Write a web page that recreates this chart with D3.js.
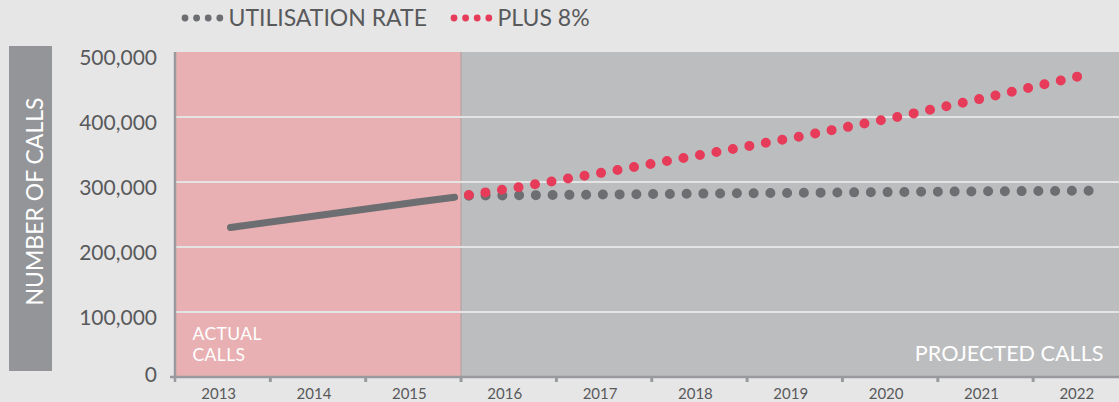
<!DOCTYPE html>
<html>
<head>
<meta charset="utf-8">
<script src="https://cdn.jsdelivr.net/npm/d3@7"></script>
<style>
  body { margin: 0; background: #e6e6e6; }
  svg { display: block; font-family: Lato, "Open Sans", sans-serif; }
</style>
</head>
<body>
<div id="chart"></div>
<script>
// chart values
const years = ["2013", "2014", "2015", "2016", "2017", "2018", "2019", "2020", "2021", "2022"];
const yTicks = [0, 100000, 200000, 300000, 400000, 500000];

const actualYears = [2013, 2014, 2015, 2015.35];
const actualCalls = [230000, 250000, 270000, 276500];

const projYears = [2015.5, 2016, 2017, 2018, 2019, 2020, 2021, 2022];
const utilisation = [279000, 279500, 280800, 282200, 283400, 284600, 285700, 286600];
const plus8 = [280000, 291500, 317000, 343500, 370800, 400300, 432300, 466200];

const W = 1119, H = 402;
const plotLeft = 175, plotTop = 52, plotBottom = 377;

const svg = d3.select("#chart").append("svg")
  .attr("width", W).attr("height", H);

const xBand = d3.scaleBand().domain(years).range([plotLeft, plotLeft + 10 * 95.35]);
const step = xBand.step();
// data points sit a bit right of the band centre
const xLin = d3.scaleLinear()
  .domain([2013, 2023])
  .range([plotLeft + 55.5, plotLeft + 55.5 + 10 * step]);
const y = d3.scaleLinear().domain([0, 500000]).range([plotBottom, plotTop]);

// backgrounds
svg.append("rect")
  .attr("x", xBand("2016")).attr("y", y(500000))
  .attr("width", W - xBand("2016")).attr("height", y(0) - y(500000))
  .attr("fill", "#bcbdbf");
svg.append("rect")
  .attr("x", xBand("2013")).attr("y", y(500000))
  .attr("width", xBand("2016") - xBand("2013")).attr("height", y(0) - y(500000))
  .attr("fill", "#e8b0b3");
svg.append("line")
  .attr("x1", xBand("2016")).attr("x2", xBand("2016"))
  .attr("y1", y(500000)).attr("y2", y(0))
  .attr("stroke", "#ab9fa1").attr("stroke-width", 1);

// grid
svg.append("g").selectAll("line")
  .data(yTicks.filter(d => d > 0 && d < 500000))
  .join("line")
  .attr("x1", plotLeft).attr("x2", W)
  .attr("y1", d => y(d)).attr("y2", d => y(d))
  .attr("stroke", "#e4e4e4").attr("stroke-width", 2);

// axes
svg.append("line")
  .attr("x1", plotLeft - 5).attr("x2", W)
  .attr("y1", y(0)).attr("y2", y(0))
  .attr("stroke", "#999a9d").attr("stroke-width", 2.5);
svg.append("line")
  .attr("x1", plotLeft).attr("x2", plotLeft)
  .attr("y1", y(500000)).attr("y2", y(0) + 5)
  .attr("stroke", "#999a9d").attr("stroke-width", 2.5);
svg.append("g").selectAll("rect")
  .data(years.slice(1))
  .join("rect")
  .attr("x", d => xBand(d) - 1.5).attr("y", y(0))
  .attr("width", 3).attr("height", 5)
  .attr("fill", "#999a9d");

// y tick labels
svg.append("g").selectAll("text")
  .data(yTicks)
  .join("text")
  .attr("x", 157)
  .attr("y", d => d === 0 ? y(d) + 5 : y(d) + 13)
  .attr("text-anchor", "end")
  .attr("fill", "#58595b")
  .style("font-size", "21px")
  .text(d => d3.format(",")(d));

// x tick labels
svg.append("g").selectAll("text")
  .data(years)
  .join("text")
  .attr("x", d => xBand(d) + xBand.bandwidth() / 2 - 4)
  .attr("y", 399)
  .attr("text-anchor", "middle")
  .attr("fill", "#58595b")
  .style("font-size", "15px")
  .text(d => d);

// y title box
svg.append("rect")
  .attr("x", 9).attr("y", 46).attr("width", 43).attr("height", 325)
  .attr("fill", "#939598");
svg.append("text")
  .attr("transform", "translate(43,201.5) rotate(-90)")
  .attr("text-anchor", "middle")
  .attr("fill", "#fff")
  .style("font-size", "23px")
  .text("NUMBER OF CALLS");

// region labels
svg.append("g").selectAll("text")
  .data([["ACTUAL", 339.5], ["CALLS", 360.5]])
  .join("text")
  .attr("x", 192.5).attr("y", d => d[1])
  .attr("fill", "#fff")
  .style("font-size", "17.5px")
  .style("letter-spacing", "0.4px")
  .text(d => d[0]);
svg.append("text")
  .attr("x", 1103.5).attr("y", 361)
  .attr("text-anchor", "end")
  .attr("fill", "#fff")
  .style("font-size", "21.6px")
  .text("PROJECTED CALLS");

// series
const line = d3.line().x(d => xLin(d[0])).y(d => y(d[1]));

svg.append("path")
  .datum(actualYears.map((d, i) => [d, actualCalls[i]]))
  .attr("d", line)
  .attr("fill", "none")
  .attr("stroke", "#6d6e71")
  .attr("stroke-width", 7)
  .attr("stroke-linecap", "round");

svg.append("path")
  .datum(projYears.map((d, i) => [d, utilisation[i]]))
  .attr("d", line)
  .attr("fill", "none")
  .attr("stroke", "#6d6e71")
  .attr("stroke-width", 10)
  .attr("stroke-linecap", "round")
  .attr("stroke-dasharray", "0 16.75");

svg.append("path")
  .datum(projYears.map((d, i) => [d, plus8[i]]))
  .attr("d", line)
  .attr("fill", "none")
  .attr("stroke", "#e63c5a")
  .attr("stroke-width", 10)
  .attr("stroke-linecap", "round")
  .attr("stroke-dasharray", "0 16.75");

// legend
const legend = [
  { label: "UTILISATION RATE", color: "#6d6e71", x: 185 },
  { label: "PLUS 8%", color: "#e63c5a", x: 454 }
];
legend.forEach(l => {
  svg.append("g").selectAll("circle")
    .data(d3.range(4))
    .join("circle")
    .attr("cx", i => l.x + i * 11.6)
    .attr("cy", 18)
    .attr("r", 3.4)
    .attr("fill", l.color);
  svg.append("text")
    .attr("x", l.x + 43.5).attr("y", 26)
    .attr("fill", "#58595b")
    .style("font-size", "23px")
    .text(l.label);
});
</script>
</body>
</html>
